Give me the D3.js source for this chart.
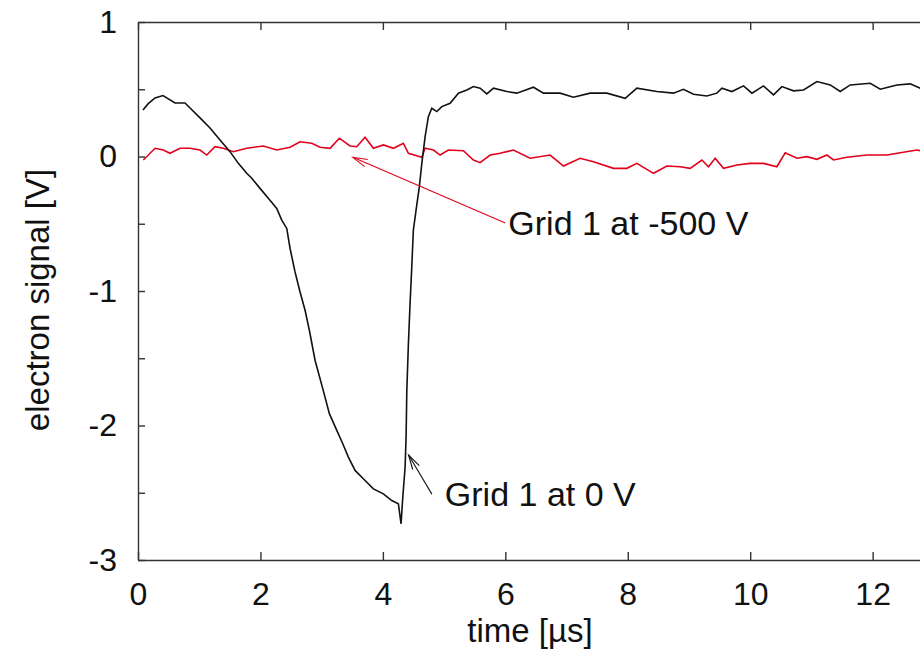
<!DOCTYPE html>
<html>
<head>
<meta charset="utf-8">
<script src="https://cdn.jsdelivr.net/npm/d3@7"></script>
<style>
  body { margin: 0; background: #fff; }
  text { font-family: "Liberation Sans", Arial, Helvetica, sans-serif; fill: #111; }
</style>
</head>
<body>
<script>
// time [µs] and signal [V]
var gridZeroTime = [0.082, 0.163, 0.278, 0.408, 0.605, 0.768, 0.850, 1.013, 1.176, 1.340,
  1.503, 1.639, 1.776, 1.858, 1.993, 2.129, 2.266, 2.348, 2.430, 2.484,
  2.565, 2.647, 2.729, 2.799, 2.892, 3.018, 3.126, 3.247, 3.345, 3.436,
  3.546, 3.681, 3.845, 4.008, 4.145, 4.253, 4.297, 4.325, 4.363, 4.379,
  4.391, 4.417, 4.444, 4.472, 4.498, 4.542, 4.596, 4.636, 4.690, 4.743,
  4.799, 4.881, 4.962, 5.098, 5.234, 5.371, 5.479, 5.588, 5.698, 5.806,
  6.025, 6.188, 6.459, 6.623, 6.895, 7.113, 7.386, 7.659, 7.958, 8.149,
  8.475, 8.747, 8.910, 9.074, 9.292, 9.456, 9.538, 9.701, 9.891, 10.028,
  10.217, 10.381, 10.518, 10.708, 10.871, 11.090, 11.307, 11.471, 11.634, 11.961,
  12.124, 12.397, 12.614, 12.778];
var gridZeroSignal = [0.346, 0.391, 0.436, 0.453, 0.398, 0.398, 0.361, 0.287, 0.212, 0.123,
  0.036, -0.051, -0.125, -0.162, -0.237, -0.311, -0.386, -0.473, -0.535, -0.684,
  -0.858, -1.007, -1.143, -1.292, -1.515, -1.726, -1.912, -2.036, -2.136, -2.235,
  -2.334, -2.396, -2.471, -2.508, -2.558, -2.582, -2.731, -2.533, -2.310, -2.086,
  -1.739, -1.391, -1.093, -0.821, -0.547, -0.398, -0.224, -0.051, 0.147, 0.296,
  0.359, 0.334, 0.371, 0.396, 0.471, 0.495, 0.520, 0.508, 0.465, 0.508,
  0.483, 0.471, 0.515, 0.471, 0.471, 0.441, 0.471, 0.471, 0.433, 0.508,
  0.483, 0.471, 0.500, 0.463, 0.450, 0.471, 0.508, 0.483, 0.525, 0.471,
  0.525, 0.458, 0.520, 0.488, 0.495, 0.557, 0.532, 0.483, 0.532, 0.545,
  0.500, 0.532, 0.540, 0.508];

var gridNegTime = [0.087, 0.278, 0.413, 0.523, 0.686, 0.850, 1.013, 1.123, 1.258, 1.394,
  1.557, 1.776, 2.047, 2.266, 2.484, 2.647, 2.838, 2.974, 3.137, 3.289,
  3.464, 3.573, 3.709, 3.845, 4.008, 4.172, 4.335, 4.417, 4.636, 4.690,
  4.825, 4.935, 5.070, 5.315, 5.479, 5.588, 5.752, 5.915, 6.132, 6.405,
  6.732, 6.950, 7.222, 7.440, 7.766, 7.985, 8.149, 8.420, 8.639, 8.856,
  9.020, 9.211, 9.319, 9.428, 9.564, 9.783, 10.000, 10.217, 10.436, 10.572,
  10.763, 10.926, 11.090, 11.253, 11.361, 11.580, 11.907, 12.234, 12.451, 12.724,
  12.778];
var gridNegSignal = [-0.026, 0.061, 0.048, 0.024, 0.061, 0.061, 0.048, 0.011, 0.073, 0.061,
  0.036, 0.061, 0.078, 0.048, 0.069, 0.110, 0.098, 0.069, 0.061, 0.136,
  0.078, 0.073, 0.143, 0.061, 0.086, 0.061, 0.098, 0.024, -0.006, 0.061,
  0.048, 0.011, 0.048, 0.043, -0.026, -0.046, 0.011, 0.024, 0.048, -0.013,
  0.011, -0.071, -0.013, -0.039, -0.088, -0.088, -0.051, -0.125, -0.071, -0.076,
  -0.088, -0.026, -0.076, -0.013, -0.088, -0.063, -0.051, -0.051, -0.076, 0.028,
  -0.013, -0.001, -0.021, 0.011, -0.026, -0.006, 0.011, 0.011, 0.028, 0.048,
  0.043];

var xTicks = [0, 2, 4, 6, 8, 10, 12];
var yTicks = [-3, -2.5, -2, -1.5, -1, -0.5, 0, 0.5, 1];

// annotations: label, arrow tail, arrow head (data units)
var labelNeg = "Grid 1 at -500 V";
var labelNegTail = [6.0, -0.495];
var labelNegHead = [3.51, -0.006];
var labelZero = "Grid 1 at 0 V";
var labelZeroTail = [4.80, -2.51];
var labelZeroHead = [4.42, -2.22];

var svgWidth = 920;
var svgHeight = 669;

var margin = { top: 22, right: 0, bottom: 109, left: 138 };
var chartHeight = svgHeight - margin.top - margin.bottom;

var svg = d3.select("body")
  .append("svg")
  .attr("width", svgWidth)
  .attr("height", svgHeight);

var x = d3.scaleLinear().domain([0, 12.8]).range([0, 12.8 * 61.22]);
var y = d3.scaleLinear().domain([-3, 1]).range([chartHeight, 0]);

var chartGroup = svg.append("g")
  .attr("transform", `translate(${margin.left}, ${margin.top})`);

function styleAxis(g) {
  g.select(".domain").attr("stroke", "#333").attr("stroke-width", 1.4);
  g.selectAll(".tick line").attr("stroke", "#333").attr("stroke-width", 1.4);
  g.selectAll(".tick text").style("font-size", "32px").attr("fill", "#111");
}

chartGroup.append("g")
  .attr("transform", `translate(0, ${chartHeight})`)
  .call(d3.axisBottom(x).tickValues(xTicks).tickSize(-8).tickSizeOuter(0)
    .tickPadding(22).tickFormat(d => String(d)))
  .call(styleAxis);

chartGroup.append("g")
  .call(d3.axisTop(x).tickValues(xTicks).tickSize(-8).tickSizeOuter(0).tickFormat(""))
  .call(styleAxis);

chartGroup.append("g")
  .call(d3.axisLeft(y).tickValues(yTicks).tickSize(-7).tickSizeOuter(0)
    .tickPadding(21).tickFormat(d => Number.isInteger(d) ? String(d) : ""))
  .call(styleAxis);

var line = d3.line()
  .x(d => x(d[0]))
  .y(d => y(d[1]));

chartGroup.append("path")
  .datum(d3.zip(gridNegTime, gridNegSignal))
  .attr("fill", "none")
  .attr("stroke", "#e3001b")
  .attr("stroke-width", 1.6)
  .attr("d", line);

chartGroup.append("path")
  .datum(d3.zip(gridZeroTime, gridZeroSignal))
  .attr("fill", "none")
  .attr("stroke", "#111")
  .attr("stroke-width", 1.6)
  .attr("d", line);

// open arrow head like gnuplot
function drawArrow(tail, head, colour) {
  var x1 = x(tail[0]), y1 = y(tail[1]);
  var x2 = x(head[0]), y2 = y(head[1]);
  var ang = Math.atan2(y1 - y2, x1 - x2);
  var len = 15, spread = 0.26;
  chartGroup.append("line")
    .attr("x1", x1).attr("y1", y1).attr("x2", x2).attr("y2", y2)
    .attr("stroke", colour).attr("stroke-width", 1.1);
  chartGroup.append("path")
    .attr("d", `M${x2 + len * Math.cos(ang + spread)},${y2 + len * Math.sin(ang + spread)}`
      + `L${x2},${y2}L${x2 + len * Math.cos(ang - spread)},${y2 + len * Math.sin(ang - spread)}`)
    .attr("fill", "none").attr("stroke", colour).attr("stroke-width", 1.1);
}

drawArrow(labelNegTail, labelNegHead, "#e3001b");
drawArrow(labelZeroTail, labelZeroHead, "#111");

chartGroup.append("text")
  .attr("x", x(labelNegTail[0]) + 3)
  .attr("y", y(labelNegTail[1]) + 12)
  .style("font-size", "34px")
  .text(labelNeg);

chartGroup.append("text")
  .attr("x", x(labelZeroTail[0]) + 13)
  .attr("y", y(labelZeroTail[1]) + 12)
  .style("font-size", "34px")
  .text(labelZero);

// axis titles
svg.append("text")
  .attr("x", 530)
  .attr("y", 642)
  .attr("text-anchor", "middle")
  .style("font-size", "33px")
  .text("time [\u00b5s]");

svg.append("text")
  .attr("transform", "translate(49, 300) rotate(-90)")
  .attr("text-anchor", "middle")
  .style("font-size", "33px")
  .text("electron signal [V]");
</script>
</body>
</html>
